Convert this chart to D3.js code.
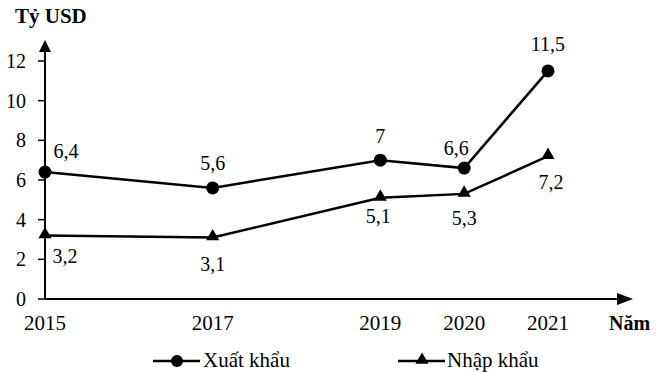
<!DOCTYPE html>
<html>
<head>
<meta charset="utf-8">
<script src="https://cdn.jsdelivr.net/npm/d3@7"></script>
<style>
  body { margin: 0; background: #fff; }
  svg { display: block; font-family: "Liberation Serif", "DejaVu Serif", serif; }
</style>
</head>
<body>
<div class="container"></div>
<script>
const years = [2015, 2017, 2019, 2020, 2021];
const exports = [6.4, 5.6, 7, 6.6, 11.5];
const imports = [3.2, 3.1, 5.1, 5.3, 7.2];
const yTicks = [0, 2, 4, 6, 8, 10, 12];
const exportLabels = ["6,4", "5,6", "7", "6,6", "11,5"];
const importLabels = ["3,2", "3,1", "5,1", "5,3", "7,2"];

const width = 664;
const height = 372;

const svg = d3.create("svg")
  .attr("width", width)
  .attr("height", height)
  .attr("viewBox", [0, 0, width, height]);

const x = d3.scaleLinear().domain([2015, 2021]).range([45, 548]);
const y = d3.scaleLinear().domain([0, 12]).range([299, 61]);

// axes
svg.append("line")
  .attr("x1", x(2015)).attr("x2", 622)
  .attr("y1", y(0)).attr("y2", y(0))
  .attr("stroke", "#000").attr("stroke-width", 2);
svg.append("path")
  .attr("d", `M617,${y(0) - 6}L633,${y(0)}L617,${y(0) + 6}Z`)
  .attr("fill", "#000");

svg.append("line")
  .attr("x1", x(2015)).attr("x2", x(2015))
  .attr("y1", y(0)).attr("y2", 52)
  .attr("stroke", "#000").attr("stroke-width", 2);
svg.append("path")
  .attr("d", `M${x(2015) - 6},52L${x(2015)},40L${x(2015) + 6},52Z`)
  .attr("fill", "#000");

const yAxis = svg.append("g");
yAxis.selectAll("line")
  .data(yTicks)
  .join("line")
  .attr("x1", x(2015) - 7).attr("x2", x(2015))
  .attr("y1", d => y(d)).attr("y2", d => y(d))
  .attr("stroke", "#000").attr("stroke-width", 1.5);
yAxis.selectAll("text")
  .data(yTicks)
  .join("text")
  .attr("x", 26)
  .attr("y", d => y(d))
  .attr("dy", "0.35em")
  .attr("text-anchor", "end")
  .style("font-size", "20px")
  .text(d => d);

svg.append("g")
  .selectAll("text")
  .data(years)
  .join("text")
  .attr("x", d => x(d))
  .attr("y", 330)
  .attr("text-anchor", "middle")
  .style("font-size", "21px")
  .text(d => d);

svg.append("text")
  .attr("x", 609).attr("y", 330)
  .style("font-size", "20px").style("font-weight", "bold")
  .text("Năm");

svg.append("text")
  .attr("x", 15).attr("y", 23)
  .style("font-size", "21px").style("font-weight", "bold")
  .text("Tỷ USD");

// lines
const line = d3.line().x(d => x(d[0])).y(d => y(d[1]));
const expData = years.map((d, i) => [d, exports[i]]);
const impData = years.map((d, i) => [d, imports[i]]);

svg.append("path").datum(expData)
  .attr("d", line).attr("fill", "none")
  .attr("stroke", "#000").attr("stroke-width", 2.5);
svg.append("path").datum(impData)
  .attr("d", line).attr("fill", "none")
  .attr("stroke", "#000").attr("stroke-width", 2.5);

const tri = d3.symbol().type(d3.symbolTriangle).size(75);

svg.append("g").selectAll("circle")
  .data(expData).join("circle")
  .attr("cx", d => x(d[0])).attr("cy", d => y(d[1]))
  .attr("r", 6.5).attr("fill", "#000");
svg.append("g").selectAll("path")
  .data(impData).join("path")
  .attr("d", tri)
  .attr("transform", d => `translate(${x(d[0])},${y(d[1]) - 1})`)
  .attr("fill", "#000");

// value labels: offsets [dx, dy] to text baseline
const expOffsets = [[21, -14], [0, -18], [0, -17], [-8, -13], [0, -20]];
const impOffsets = [[20, 27], [0, 33], [-2, 25], [0, 31], [3, 33]];

svg.append("g").selectAll("text")
  .data(expData).join("text")
  .attr("x", (d, i) => x(d[0]) + expOffsets[i][0])
  .attr("y", (d, i) => y(d[1]) + expOffsets[i][1])
  .attr("text-anchor", "middle")
  .style("font-size", "20px")
  .text((d, i) => exportLabels[i]);
svg.append("g").selectAll("text")
  .data(impData).join("text")
  .attr("x", (d, i) => x(d[0]) + impOffsets[i][0])
  .attr("y", (d, i) => y(d[1]) + impOffsets[i][1])
  .attr("text-anchor", "middle")
  .style("font-size", "20px")
  .text((d, i) => importLabels[i]);

// legend
const legend = svg.append("g");
legend.append("line")
  .attr("x1", 153).attr("x2", 200).attr("y1", 361).attr("y2", 361)
  .attr("stroke", "#000").attr("stroke-width", 2.5);
legend.append("circle")
  .attr("cx", 177).attr("cy", 361).attr("r", 6).attr("fill", "#000");
legend.append("text")
  .attr("x", 203).attr("y", 367)
  .style("font-size", "21px")
  .text("Xuất khẩu");
legend.append("line")
  .attr("x1", 398).attr("x2", 445).attr("y1", 361).attr("y2", 361)
  .attr("stroke", "#000").attr("stroke-width", 2.5);
legend.append("path")
  .attr("d", tri)
  .attr("transform", "translate(422,360)")
  .attr("fill", "#000");
legend.append("text")
  .attr("x", 447).attr("y", 367)
  .style("font-size", "21px")
  .text("Nhập khẩu");

document.querySelector(".container").append(svg.node());
</script>
</body>
</html>
